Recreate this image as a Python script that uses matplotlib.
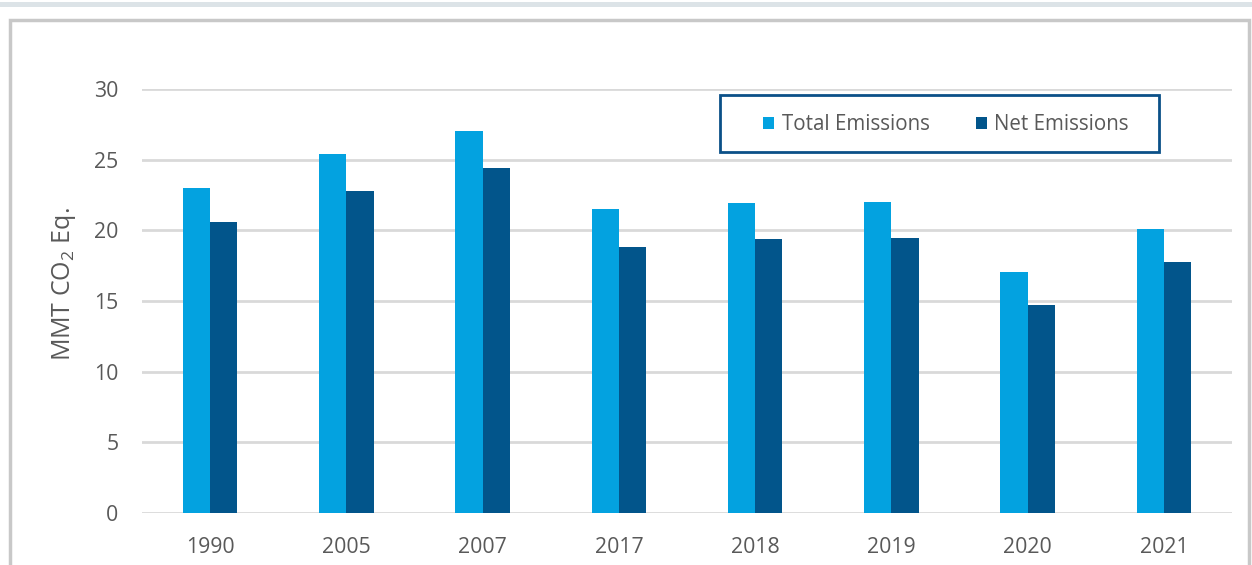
import matplotlib
matplotlib.use("Agg")
import matplotlib.pyplot as plt
import numpy as np
from matplotlib.patches import Rectangle

plt.rcParams['font.family'] = ['Open Sans', 'DejaVu Sans']
plt.rcParams['mathtext.fontset'] = 'custom'
plt.rcParams['mathtext.rm'] = 'Open Sans'
plt.rcParams['mathtext.it'] = 'Open Sans'

years = ["1990", "2005", "2007", "2017", "2018", "2019", "2020", "2021"]
total_emissions = [22.98, 25.43, 27.06, 21.49, 21.92, 22.01, 17.06, 20.12]
net_emissions = [20.57, 22.81, 24.44, 18.85, 19.39, 19.49, 14.70, 17.79]
yticks = [0, 5, 10, 15, 20, 25, 30]

c_total = "#03a2e0"
c_net = "#02558b"
text_c = "#595959"
grid_c = "#d9d9d9"

W, H = 1252, 565
fig = plt.figure(figsize=(W / 100, H / 100), dpi=100)

def fx(px):
    return px / W

def fy(py):
    return 1 - py / H

# top strip and outer frame
fig.patches.append(Rectangle((0, fy(7)), 1, 5 / H, transform=fig.transFigure,
                             facecolor="#dce3e7", edgecolor="none", zorder=-2))
fig.patches.append(Rectangle((fx(10), -0.05), 1239 / W, 1.05 - 20 / H, transform=fig.transFigure,
                             facecolor="white", edgecolor="#c8c8c8", linewidth=2.5, zorder=-2))

ax = fig.add_axes([fx(142), fy(513), (1232 - 142) / W, (513 - 89) / H])
ax.set_facecolor("none")
x = np.arange(len(years))
bw = 0.2
ax.bar(x - bw / 2, total_emissions, bw, color=c_total, label="Total Emissions", zorder=3)
ax.bar(x + bw / 2, net_emissions, bw, color=c_net, label="Net Emissions", zorder=3)

ax.set_xlim(-0.5, len(years) - 0.5)
ax.set_ylim(0, 30)
ax.set_yticks(yticks)
ax.set_xticks(x)
ax.set_xticklabels(years)
ax.yaxis.grid(True, color=grid_c, linewidth=2, zorder=0)
ax.set_axisbelow(True)
for s in ax.spines.values():
    s.set_visible(False)
ax.tick_params(axis="both", length=0, labelsize=15.3, labelcolor=text_c)
ax.tick_params(axis="y", pad=17)
ax.tick_params(axis="x", pad=17)
ax.set_ylabel(r"MMT CO$_\mathrm{2}$ Eq.", fontsize=18, color=text_c)
ax.yaxis.set_label_coords((78 - 142) / 1090, (513 - 284) / 424)

# legend frame drawn explicitly
fig.patches.append(Rectangle((fx(720), fy(152)), (1159 - 720) / W, (152 - 95) / H,
                             transform=fig.transFigure, facecolor="white",
                             edgecolor="#0b5088", linewidth=2, zorder=5))
leg = fig.legend(loc="center", bbox_to_anchor=(fx(946), fy(125)),
                 ncol=2, frameon=False, fontsize=14.8,
                 handlelength=0.55, handleheight=0.55, handletextpad=0.35, columnspacing=2.25,
                 borderpad=0, borderaxespad=0)
leg.set_zorder(6)
for t in leg.get_texts():
    t.set_color(text_c)

fig.savefig("out.png", dpi=100)
